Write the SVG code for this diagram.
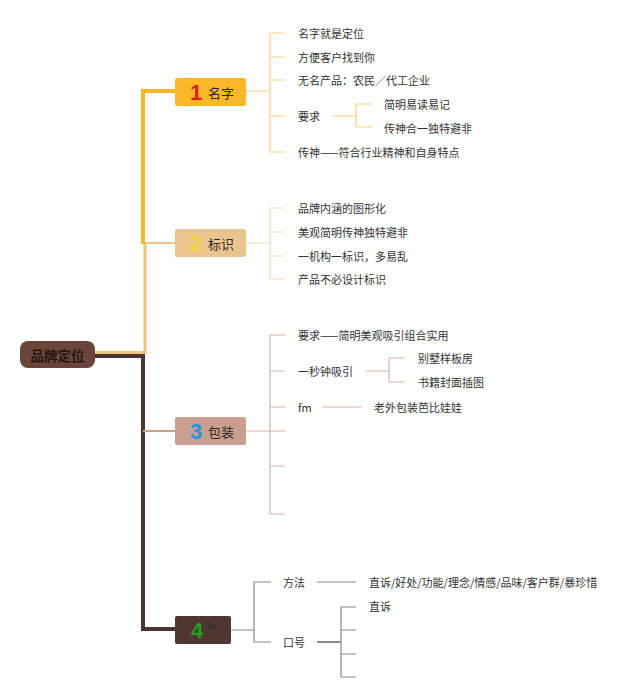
<svg xmlns="http://www.w3.org/2000/svg" width="640" height="698" viewBox="0 0 640 698">
<style>
.t{font-family:"Noto Sans CJK SC","Liberation Sans",sans-serif;font-size:11px;fill:#333;dominant-baseline:central}
.n{font-family:"Noto Sans CJK SC","Liberation Sans",sans-serif;font-size:13px;fill:#2a2a2a;dominant-baseline:central}
.num{font-family:"Liberation Sans","DejaVu Sans",sans-serif;font-size:22px;font-weight:bold;dominant-baseline:central}
.c1{fill:none;stroke:#f6d07e;stroke-width:1.2}
.c2{fill:none;stroke:#f2d9b6;stroke-width:1.2}
.c3{fill:none;stroke:#d9b3a8;stroke-width:1.2}
.c4{fill:none;stroke:#8a8a8a;stroke-width:1.2}
</style>
<rect width="640" height="698" fill="#ffffff"/>
<g id="connectors">
  <path d="M95,352.5 H145 V243" fill="none" stroke="#f0c47a" stroke-width="3"/>
  <path d="M145,243 H175" fill="none" stroke="#eac590" stroke-width="2"/>
  <path d="M143,244 V91 H175" fill="none" stroke="#f8b728" stroke-width="4"/>
  <path d="M95,356 H143 V629 H175" fill="none" stroke="#4b3530" stroke-width="4"/>
  <path d="M143,431 H175" fill="none" stroke="#caa08f" stroke-width="2"/>
  <!-- node 1 children -->
  <path class="c1" d="M246,91 H270 M285,33 H270 V152 H285 M270,57 H285 M270,80 H285 M270,116 H285"/>
  <path class="c1" d="M333,116 H356 M372,104 H356 V127 H372"/>
  <!-- node 2 children -->
  <path class="c2" d="M246,243 H270 M285,208 H270 V279 H285 M270,232 H285 M270,256 H285"/>
  <!-- node 3 children -->
  <path class="c3" d="M246,431 H270 M285,335 H270 V514 H285 M270,371 H285 M270,407 H285 M270,431 H285 M270,466 H285"/>
  <path class="c3" d="M366,371 H389 M405,358 H389 V382 H405"/>
  <path class="c3" d="M323,407 H362"/>
  <!-- node 4 children -->
  <path class="c4" d="M231,630 H254 M271,582 H254 V642 H271"/>
  <path class="c4" d="M317,582 H356"/>
  <path fill="none" stroke="#555" stroke-width="1.4" d="M317,642 H341"/>
  <path class="c4" d="M356,607 H341 V677 H356 M341,630 H356 M341,654 H356"/>
</g>
<g id="root">
  <rect x="20" y="341" width="75" height="27" rx="8" fill="#6b4539"/>
  <text x="57.5" y="354.5" text-anchor="middle" font-family="'Noto Sans CJK SC',sans-serif" font-size="13.5" font-weight="bold" fill="#26160f" dominant-baseline="central">品牌定位</text>
</g>
<g id="node1">
  <rect x="175" y="78" width="71" height="28" rx="2" fill="#fbb829"/>
  <text class="num" x="196" y="92" text-anchor="middle" fill="#e01b1b">1</text>
  <text class="n" x="208" y="92">名字</text>
</g>
<g id="node2">
  <rect x="175" y="229" width="71" height="28" rx="2" fill="#eac590"/>
  <text class="num" x="196" y="243" text-anchor="middle" fill="#f6d63a">2</text>
  <text class="n" x="208" y="243">标识</text>
</g>
<g id="node3">
  <rect x="175" y="417" width="71" height="28" rx="2" fill="#c9a08f"/>
  <text class="num" x="196" y="431" text-anchor="middle" fill="#2496dd">3</text>
  <text class="n" x="208" y="431">包装</text>
</g>
<g id="node4">
  <rect x="175" y="616" width="56" height="28" rx="2" fill="#4f3631"/>
  <text class="num" x="197" y="630" text-anchor="middle" fill="#22a023">4</text>
  <text x="208" y="629" font-family="'Liberation Serif',serif" font-size="10" fill="#2b2b2b">bt</text>
</g>
<g id="n1-children">
  <text class="t" x="298" y="33">名字就是定位</text>
  <text class="t" x="298" y="57">方便客户找到你</text>
  <text class="t" x="298" y="80">无名产品：农民／代工企业</text>
  <text class="t" x="298" y="116">要求</text>
  <text class="t" x="384" y="104">简明易读易记</text>
  <text class="t" x="384" y="128">传神合一独特避非</text>
  <text class="t" x="298" y="152">传神——符合行业精神和自身特点</text>
</g>
<g id="n2-children">
  <text class="t" x="298" y="208">品牌内涵的图形化</text>
  <text class="t" x="298" y="232">美观简明传神独特避非</text>
  <text class="t" x="298" y="256">一机构一标识，多易乱</text>
  <text class="t" x="298" y="279">产品不必设计标识</text>
</g>
<g id="n3-children">
  <text class="t" x="298" y="335">要求——简明美观吸引组合实用</text>
  <text class="t" x="298" y="371">一秒钟吸引</text>
  <text class="t" x="418" y="358">别墅样板房</text>
  <text class="t" x="418" y="382">书籍封面插图</text>
  <text class="t" x="298" y="407" font-family="'Liberation Sans',sans-serif" font-size="10">fm</text>
  <text class="t" x="374" y="407">老外包装芭比娃娃</text>
</g>
<g id="n4-children">
  <text class="t" x="283" y="582">方法</text>
  <text class="t" x="283" y="642">口号</text>
  <text class="t" x="369" y="582">直诉/好处/功能/理念/情感/品味/客户群/暴珍惜</text>
  <text class="t" x="369" y="606">直诉</text>
</g>
</svg>
